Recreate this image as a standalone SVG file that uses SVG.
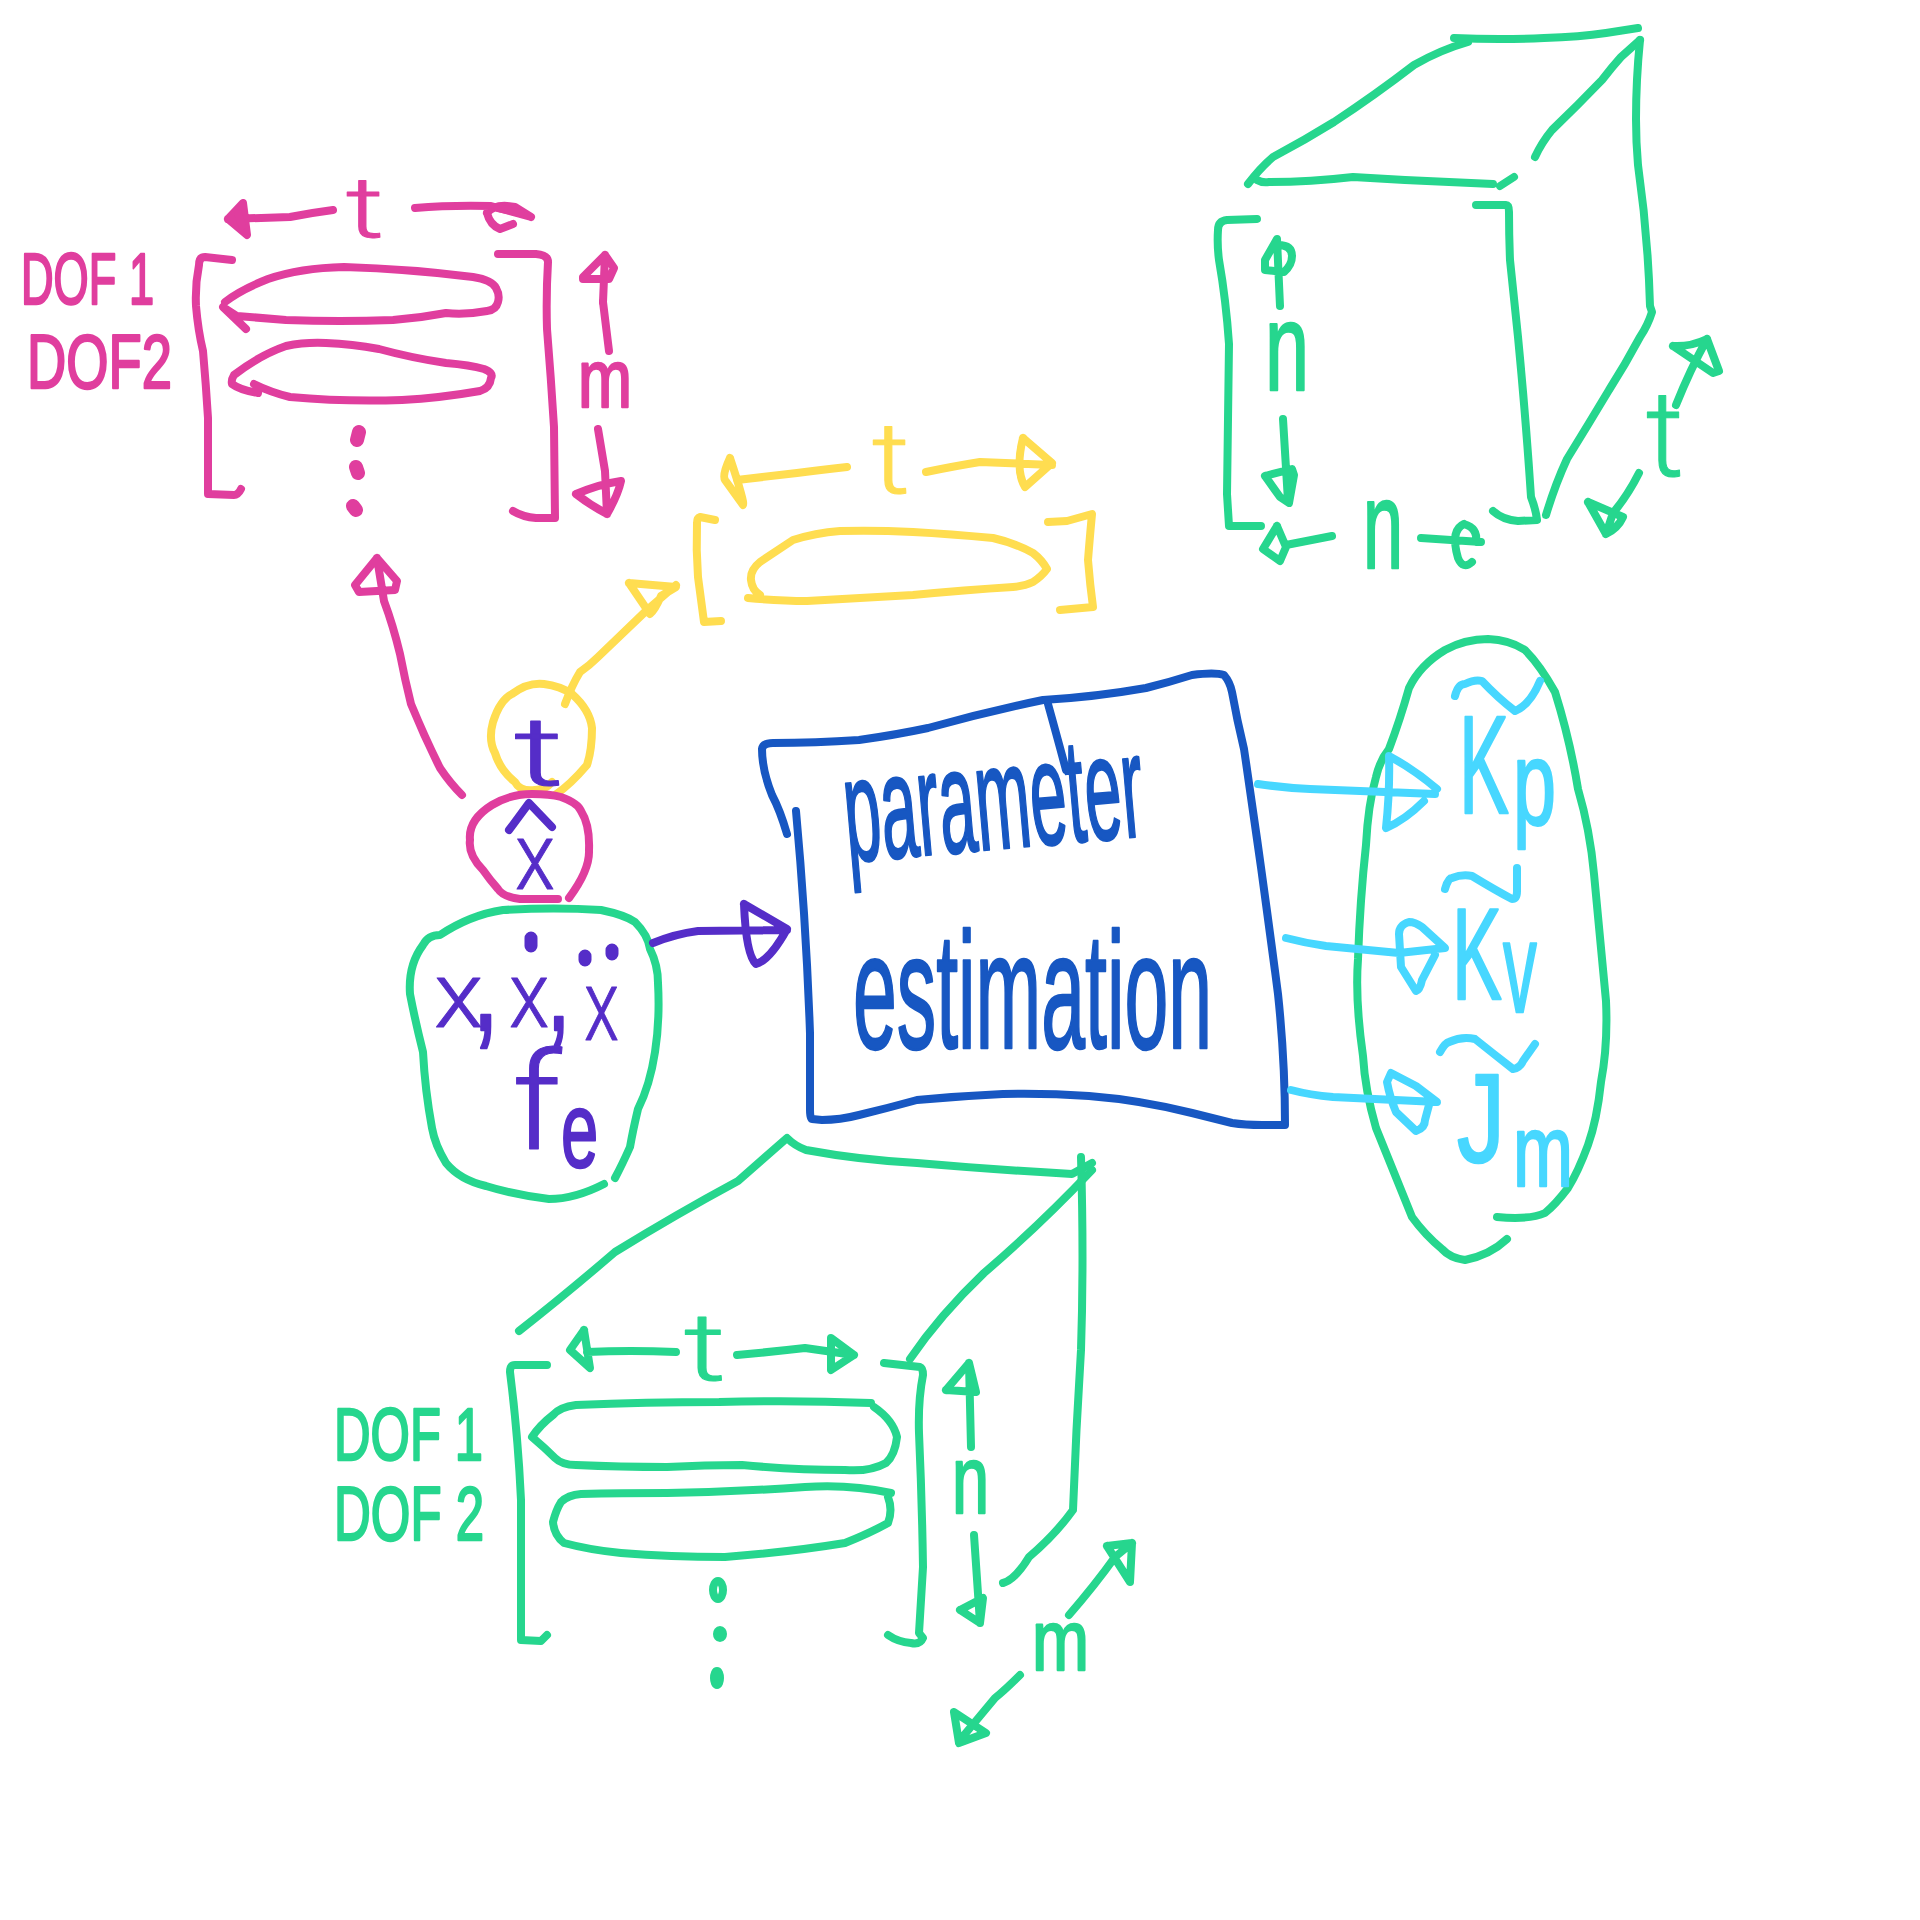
<svg xmlns="http://www.w3.org/2000/svg" width="1920" height="1920" viewBox="0 0 1920 1920">
<style>
path,ellipse{fill:none;stroke-width:8;stroke-linecap:round;stroke-linejoin:round}
text{font-family:"Liberation Sans",Arial,sans-serif;stroke-width:2.5;stroke-linejoin:round}
text.t{font-family:Roboto,"Liberation Sans",sans-serif;font-weight:300;stroke-width:1}
.pk path,.pk ellipse{stroke:#e03e9e}.pk text{fill:#e03e9e;stroke:#e03e9e}
.ye path{stroke:#ffdd50}.ye text{fill:#ffdd50;stroke:#ffdd50}
.gr path,.gr ellipse{stroke:#26d68e}.gr text{fill:#26d68e;stroke:#26d68e}
.pu path{stroke:#552dc8}.pu text{fill:#552dc8;stroke:#552dc8}
.bl path{stroke:#1757c2}.bl text{fill:#1757c2;stroke:#1757c2}
.cy path{stroke:#47d7ff}.cy text{fill:#47d7ff;stroke:#47d7ff}
</style>
<rect width="1920" height="1920" fill="#ffffff"/>

<g id="pink-matrix" class="pk">
<path d="M232 260L205 257Q199 257 199 265Q195 285 196 306Q198 330 203 351Q206 385 208 418L208 494L234 495Q238 495 241 489"/>
<path d="M498 254L536 254Q548 255 548 262Q546 295 547 329Q551 378 554 427L555 518L536 518Q523 517 513 511"/>
<path d="M225 302Q240 290 268 279Q300 268 344 267Q410 269 473 277Q492 280 496 288Q500 295 498 302Q496 310 487 311Q465 315 446 313Q420 318 393 320Q340 322 286 320L237 316L223 307L246 329"/>
<path d="M258 393Q240 390 232 384Q231 380 234 375Q260 355 286 346Q305 342 326 343Q352 344 379 349Q412 358 446 363Q470 365 484 369Q494 373 491 378Q490 388 480 391Q440 398 402 400Q345 402 290 397Q270 392 254 384"/>
<text class="t" x="346" y="237" font-size="85" textLength="38" lengthAdjust="spacingAndGlyphs">t</text>
<text x="21" y="304" font-size="72" textLength="133" lengthAdjust="spacingAndGlyphs">DOF 1</text>
<text x="27" y="388" font-size="76" textLength="145" lengthAdjust="spacingAndGlyphs">DOF2</text>
<text x="578" y="407" font-size="82" textLength="54" lengthAdjust="spacingAndGlyphs">m</text>
<path style="stroke-width:14" d="M359 432L357 440M356 467L358 473M353 506L356 510"/>
</g>

<g id="yellow-matrix" class="ye">
<path d="M715 520L700 517Q697 518 697 523Q696 550 698 577L704 622L721 621"/>
<path d="M1048 522L1067 521L1092 514Q1090 535 1088 560Q1090 585 1093 607L1060 610"/>
<path d="M748 598Q780 601 807 601Q860 598 913 595Q965 590 1013 587Q1025 586 1033 582Q1042 576 1047 569Q1042 560 1033 553Q1015 543 993 538Q950 534 913 532Q875 530 840 531Q815 533 793 540Q775 552 760 562Q750 570 751 580Q752 590 760 595"/>
<text class="t" x="872" y="493" font-size="100" textLength="38" lengthAdjust="spacingAndGlyphs">t</text>
</g>

<g id="cube" class="gr">
<path d="M1248 184Q1260 168 1273 157Q1305 140 1334 122Q1375 95 1414 65Q1440 50 1468 42"/>
<path d="M1454 38Q1500 40 1544 38Q1580 37 1606 33L1638 28"/>
<path d="M1257 180Q1262 183 1269 182Q1310 182 1353 177Q1400 180 1449 182L1493 184"/>
<path d="M1500 186L1514 177"/>
<path d="M1535 157Q1542 142 1552 130Q1578 105 1602 80Q1612 67 1621 57L1640 40"/>
<path d="M1640 40Q1636 80 1636 119Q1636 142 1638 165Q1648 235 1650 306L1652 312Q1648 325 1640 337Q1625 365 1609 390Q1588 425 1567 459Q1555 485 1546 515"/>
<path d="M1257 219L1227 220Q1218 221 1218 230Q1217 245 1219 260Q1226 300 1229 344Q1228 420 1227 494L1229 526L1261 526"/>
<path d="M1476 205L1506 205Q1509 205 1509 212Q1509 235 1510 260Q1514 300 1518 337Q1526 420 1531 497Q1536 510 1537 520L1518 521Q1503 520 1493 511"/>
<path d="M1280 306L1277 239L1265 260L1265 270L1284 272Q1292 265 1292 256Q1292 245 1278 245"/>
<path d="M1283 419L1288 501M1265 476L1292 469L1294 475L1289 503L1280 497L1265 476"/>
<path d="M1332 536L1286 545M1277 526L1263 549L1280 561L1286 547L1277 526"/>
<path d="M1421 538L1481 542M1464 524Q1450 530 1458 558Q1463 570 1472 562M1464 524Q1478 528 1476 542"/>
<path d="M1676 405Q1690 370 1707 339M1673 346Q1690 347 1707 339L1719 371L1713 373L1673 346"/>
<path d="M1639 473Q1628 495 1613 513L1606 534M1588 502L1623 517Q1618 528 1606 534L1588 502"/>
<text x="1265" y="390" font-size="125" textLength="44" lengthAdjust="spacingAndGlyphs">n</text>
<text x="1363" y="568" font-size="125" textLength="40" lengthAdjust="spacingAndGlyphs">n</text>
<text class="t" x="1646" y="476" font-size="120" textLength="38" lengthAdjust="spacingAndGlyphs">t</text>
</g>

<g id="input-time" class="ye">
<path d="M552 782Q545 790 535 790Q520 792 515 782Q500 770 495 753Q488 740 493 722Q500 700 512 694Q528 682 544 684Q560 686 572 694Q590 710 592 728Q592 750 587 765Q570 785 555 795"/>
</g>
<g id="input-time-label" class="pu">
<text class="t" x="514" y="785" font-size="96" textLength="50" lengthAdjust="spacingAndGlyphs">t</text>
</g>

<g id="input-xhat" class="pk">
<path d="M558 899L520 899Q503 897 498 889Q490 880 483 870Q468 855 470 840Q468 820 492 805Q510 794 532 794Q550 794 561 797Q578 803 581 811Q590 825 589 850Q590 870 569 898"/>
</g>
<g id="input-xhat-label" class="pu">
<path d="M509 830L529 803L552 827"/>
<text class="t" x="515" y="889" font-size="94" textLength="40" lengthAdjust="spacingAndGlyphs">x</text>
</g>

<g id="input-state" class="gr">
<path d="M604 1184Q575 1199 549 1199Q515 1195 486 1186Q460 1180 446 1163Q435 1145 432 1128Q425 1090 423 1052Q415 1020 410 994Q408 965 423 945Q428 935 440 935Q470 915 503 910Q555 907 601 910Q625 915 635 922Q648 935 650 949Q658 965 658 983Q660 1020 655 1052Q650 1085 638 1109Q633 1130 630 1147Q622 1165 615 1178"/>
</g>
<g id="input-state-label" class="pu">
<text class="t" transform="translate(434 1027) scale(1.1 1)" font-size="92">x</text>
<text transform="translate(472 1030) scale(.7 1)" font-size="140">,</text>
<path style="stroke-width:13" d="M531 938L531 946M585 956L585 960M612 950L612 954"/>
<text class="t" transform="translate(509 1027) scale(.9 1)" font-size="92">x</text>
<text transform="translate(547 1030) scale(.7 1)" font-size="120">,</text>
<text class="t" transform="translate(584 1040) scale(.72 1)" font-size="100">x</text>
<text class="t" transform="translate(512 1149) scale(1.1 1)" font-size="135">f</text>
<text transform="translate(561 1167) scale(.62 1)" font-size="108">e</text>
</g>

<g id="parameter-estimation" class="bl">
<path d="M787 834Q780 810 772 795Q762 770 762 749Q763 743 773 743Q815 743 859 740Q895 735 928 728Q985 712 1043 700Q1095 697 1146 688Q1170 682 1192 675Q1215 672 1224 675Q1230 682 1232 692Q1237 720 1244 749Q1262 870 1278 994Q1285 1060 1285 1125L1262 1125Q1245 1125 1232 1123Q1212 1118 1192 1113Q1140 1100 1089 1096Q1045 1093 1003 1094Q960 1096 917 1100Q888 1108 859 1115Q840 1120 822 1120L812 1119Q810 1119 810 1110L810 1033Q806 920 796 811"/>
<path d="M1048 704Q1058 740 1066 770"/>
<text transform="translate(848 862) rotate(-5)" font-size="148" textLength="300" lengthAdjust="spacingAndGlyphs">parameter</text>
<text x="853" y="1048" font-size="165" textLength="359" lengthAdjust="spacingAndGlyphs">estimation</text>
</g>

<g id="output-params" class="gr">
<path d="M1507 1239Q1490 1255 1465 1260Q1450 1258 1442 1249Q1425 1235 1412 1217Q1395 1175 1376 1128Q1365 1090 1363 1056Q1355 1000 1358 959Q1360 900 1366 845Q1368 805 1376 777Q1380 760 1389 749Q1400 720 1409 688Q1420 665 1445 650Q1465 639 1488 639Q1510 640 1525 650Q1540 665 1555 692Q1570 740 1578 789Q1590 830 1594 874Q1600 940 1606 1001Q1608 1045 1601 1082Q1597 1120 1588 1145Q1578 1172 1568 1188Q1555 1205 1545 1213Q1530 1220 1497 1217"/>
</g>
<g id="output-params-labels" class="cy">
<path d="M1455 696Q1458 684 1465 684Q1475 679 1482 681Q1498 698 1515 711Q1530 705 1540 681"/>
<path d="M1445 889Q1448 878 1452 878Q1462 874 1472 876Q1495 890 1512 899Q1517 899 1517 891L1517 868"/>
<path d="M1440 1052Q1445 1043 1449 1042Q1462 1036 1475 1039Q1495 1055 1513 1069Q1520 1068 1523 1061L1535 1044"/>
<text transform="translate(1459 813) scale(.535 1)" font-size="140">K</text>
<text transform="translate(1513 824) scale(.65 1)" font-size="119">p</text>
<text transform="translate(1452 999) scale(.575 1)" font-size="130">K</text>
<text transform="translate(1503 1012) scale(.52 1)" font-size="130">v</text>
<text transform="translate(1457 1162) scale(.755 1)" font-size="127">J</text>
<text transform="translate(1513 1186) scale(.706 1)" font-size="102">m</text>
</g>

<g id="green-matrix" class="gr">
<path d="M547 1365L515 1365Q510 1365 510 1372Q518 1435 521 1500L521 1640L541 1641L547 1635"/>
<path d="M884 1363L920 1367Q923 1368 923 1375Q918 1400 919 1433Q922 1500 923 1567Q921 1600 919 1633L923 1638Q920 1645 911 1643Q898 1642 888 1635"/>
<path d="M871 1403Q795 1400 719 1402Q645 1402 576 1405Q560 1407 553 1415Q540 1425 532 1437Q545 1448 555 1458Q562 1465 576 1465Q620 1467 667 1467Q705 1465 742 1465Q795 1470 845 1470Q870 1472 886 1463Q895 1455 897 1437Q893 1420 874 1407"/>
<path d="M891 1493Q850 1484 805 1487Q735 1492 667 1493Q620 1493 581 1494Q568 1495 561 1502Q556 1510 553 1522Q554 1535 564 1543Q590 1550 621 1553Q670 1557 725 1557Q790 1552 845 1543Q870 1533 888 1523Q893 1510 888 1497"/>
<ellipse cx="718" cy="1590" rx="5" ry="9"/><ellipse cx="720" cy="1634" rx="3" ry="4"/><ellipse cx="717" cy="1678" rx="3" ry="7"/>
<text class="t" x="684" y="1380" font-size="95" textLength="42" lengthAdjust="spacingAndGlyphs">t</text>
<text x="334" y="1460" font-size="74" textLength="149" lengthAdjust="spacingAndGlyphs">DOF 1</text>
<text x="334" y="1540" font-size="76" textLength="150" lengthAdjust="spacingAndGlyphs">DOF 2</text>
<text x="952" y="1513" font-size="96" textLength="37" lengthAdjust="spacingAndGlyphs">n</text>
<text x="1032" y="1670" font-size="86" textLength="57" lengthAdjust="spacingAndGlyphs">m</text>
</g>

<g id="green-prism" class="gr">
<path d="M519 1331Q565 1295 615 1252Q675 1215 738 1181L787 1138Q795 1146 806 1150Q860 1160 917 1163Q1000 1170 1072 1174L1092 1163"/>
<path d="M1092 1170Q1040 1225 984 1273Q940 1315 910 1359"/>
<path d="M1081 1157Q1084 1260 1081 1350Q1076 1430 1073 1510Q1055 1535 1029 1557Q1015 1580 1003 1583"/>
</g>

<g id="connectors">
<g class="pk">
<path d="M333 210Q310 213 290 217L228 219M243 203L228 219L247 235Z"/>
<path d="M238 213L242 226"/>
<path d="M415 208Q450 205 491 206L531 217M487 213Q495 203 515 207L531 217M487 213Q490 225 500 229L513 224"/>
<path d="M498 208L520 213"/>
<path d="M603 302L605 255M583 277L605 255L614 268L609 279L583 279Z"/>
<path d="M603 302L609 351"/>
<path d="M598 429L605 471L607 514M576 494Q600 484 621 481Q618 495 607 514Q590 505 576 494"/>
<path d="M462 795Q450 783 440 768Q425 738 411 704Q405 680 400 654Q393 625 384 601L377 558M377 558L397 581L395 590L359 592L355 585Z"/>
</g>
<g class="ye">
<path d="M565 704Q572 685 580 672Q590 665 598 657L647 610L676 585M629 583L676 587L661 596Q655 610 650 614L629 583"/>
<path d="M847 467Q820 470 797 473L737 480M730 458Q722 475 725 480L743 505Q745 503 730 458"/>
<path d="M926 472Q955 466 980 462L1052 465M1023 438L1052 463L1025 487Q1015 470 1023 438"/>
</g>
<g class="pu">
<path d="M653 943Q675 934 698 931L787 930M744 904L787 929Q770 960 756 964Q746 955 744 904"/>
</g>
<g class="gr">
<path d="M676 1352Q630 1350 587 1352M584 1330L570 1350L590 1368L584 1330"/>
<path d="M737 1355Q770 1352 805 1348L854 1355M831 1338L854 1355L831 1370Z"/>
<path d="M969 1363L971 1447M946 1390L969 1363L976 1392L946 1390"/>
<path d="M974 1535L980 1623M960 1610L983 1598L980 1623L960 1610"/>
<path d="M1069 1615Q1095 1585 1115 1557L1132 1543M1107 1546L1132 1543L1130 1582L1107 1546"/>
<path d="M1020 1675Q1005 1690 995 1698L960 1740M954 1712L986 1733L959 1743Z"/>
</g>
<g class="cy">
<path d="M1258 784Q1285 788 1310 789L1435 794M1424 801Q1405 820 1386 828Q1390 790 1389 756Q1415 770 1437 789"/>
<path d="M1286 938Q1305 943 1326 946L1399 953L1445 948L1422 927Q1415 922 1409 922Q1399 925 1399 934L1401 967L1416 991Q1420 990 1422 980L1435 955"/>
<path d="M1291 1090Q1310 1095 1333 1097L1437 1102L1416 1086L1391 1073L1387 1082Q1390 1098 1396 1112L1416 1131Q1425 1128 1425 1120L1429 1105"/>
</g>
</g>
</svg>
